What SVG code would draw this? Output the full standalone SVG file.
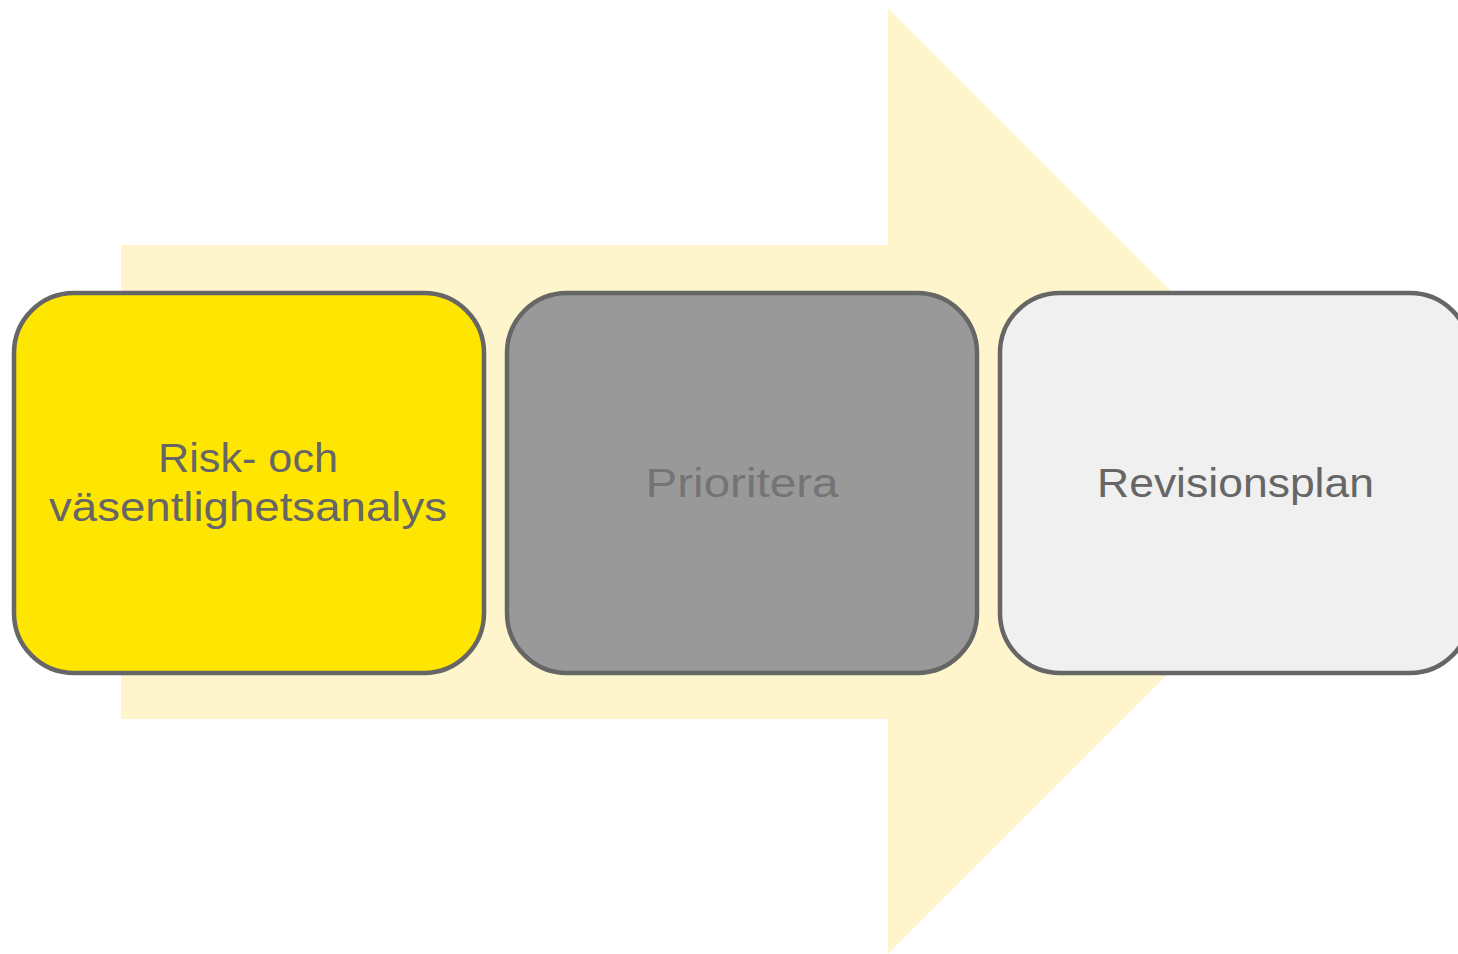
<svg xmlns="http://www.w3.org/2000/svg" width="1458" height="954" viewBox="0 0 1458 954">
<style>
.box{stroke:#666666;stroke-width:4.5}
.t{font-family:"Liberation Sans","Open Sans",sans-serif;font-size:41px;fill:#666666;text-anchor:middle}
</style>
<rect width="1458" height="954" fill="#ffffff"/>
<g id="arrow">
<polygon points="121,245 888,245 888,8 1361,481 888,954 888,719 121,719" fill="#FEF5CC"/>
</g>
<g id="node1">
<rect class="box" x="14" y="293" width="470" height="380" rx="60" ry="60" fill="#FFE600"/>
<text class="t" x="248" y="472" textLength="180" lengthAdjust="spacingAndGlyphs">Risk- och</text>
<text class="t" x="248" y="521" textLength="398" lengthAdjust="spacingAndGlyphs">väsentlighetsanalys</text>
</g>
<g id="node2">
<rect class="box" x="507" y="293" width="470" height="380" rx="60" ry="60" fill="#999999"/>
<text class="t" x="742" y="497" textLength="193" lengthAdjust="spacingAndGlyphs" style="fill:#747474">Prioritera</text>
</g>
<g id="node3">
<rect class="box" x="1000" y="293" width="470" height="380" rx="60" ry="60" fill="#F0F0F0"/>
<text class="t" x="1235.5" y="497" textLength="277" lengthAdjust="spacingAndGlyphs">Revisionsplan</text>
</g>
<g id="connectors"></g>
</svg>
